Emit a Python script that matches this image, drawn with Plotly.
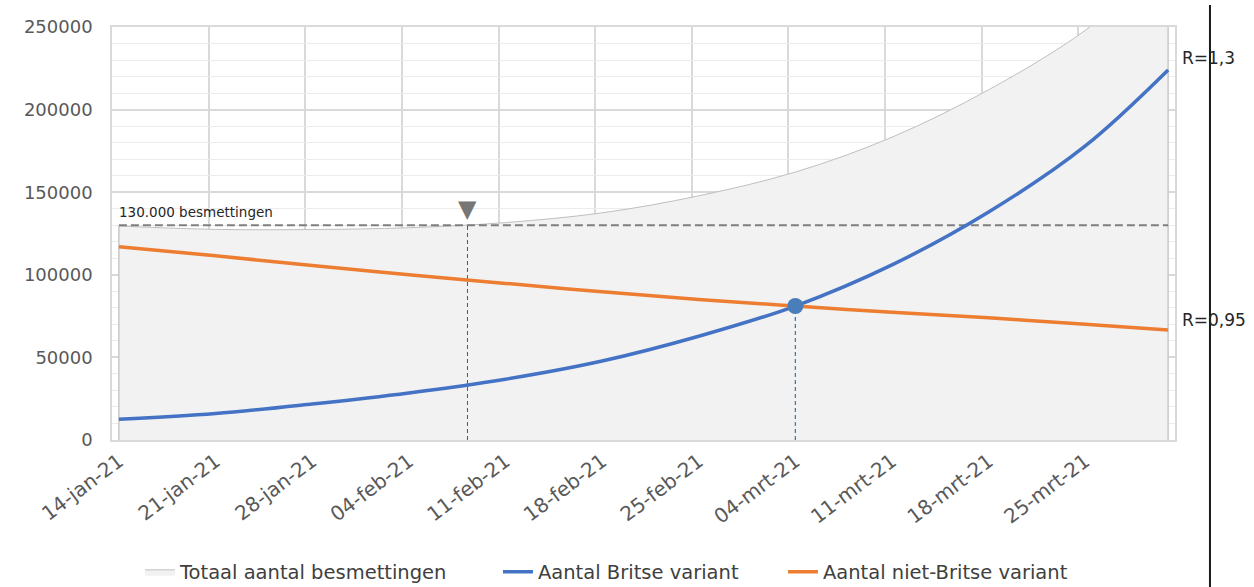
import plotly.graph_objects as go

# ---- data ----
DATES = ["2021-01-14", "2021-01-21", "2021-01-28", "2021-02-04", "2021-02-11",
         "2021-02-18", "2021-02-25", "2021-03-04", "2021-03-11", "2021-03-18",
         "2021-03-25", "2021-03-31"]
BRITISH = [12500, 16000, 21800, 28500, 36800, 47800, 62800, 81100, 106000,
           138000, 178000, 224000]
NON_BRITISH = [117000, 111500, 105600, 100000, 94800, 89700, 85000, 81100,
               77300, 74000, 70000, 66600]
TOTAL = [b + n for b, n in zip(BRITISH, NON_BRITISH)]

TICK_DATES = ["2021-01-14", "2021-01-21", "2021-01-28", "2021-02-04", "2021-02-11",
              "2021-02-18", "2021-02-25", "2021-03-04", "2021-03-11", "2021-03-18",
              "2021-03-25"]
TICK_LABELS = ["14-jan-21", "21-jan-21", "28-jan-21", "04-feb-21", "11-feb-21",
               "18-feb-21", "25-feb-21", "04-mrt-21", "11-mrt-21", "18-mrt-21",
               "25-mrt-21"]
Y_TICKS = [0, 50000, 100000, 150000, 200000, 250000]

THRESHOLD = 130000
THRESHOLD_LABEL = "130.000 besmettingen"
THRESHOLD_DATE = "2021-02-08 06:00"
CROSS_INDEX = 7  # 04-mrt-21
R_BRITISH = "R=1,3"
R_NON_BRITISH = "R=0,95"

FONT = "DejaVu Sans"
BLUE = "#4472c4"
ORANGE = "#ed7d31"

fig = go.Figure()

# total (area)
fig.add_trace(go.Scatter(
    x=DATES, y=TOTAL, name="Totaal aantal besmettingen",
    mode="lines", line=dict(color="#bfbfbf", width=1, shape="spline"),
    fill="tozeroy", fillcolor="#f2f2f2", hoverinfo="skip", legend="legend"))
# area end edges
for i in (0, -1):
    fig.add_trace(go.Scatter(
        x=[DATES[i], DATES[i]], y=[0, TOTAL[i]], mode="lines",
        line=dict(color="#c8c8c8", width=1.5), showlegend=False, hoverinfo="skip"))

# threshold dashed line
fig.add_trace(go.Scatter(
    x=[DATES[0], DATES[-1]], y=[THRESHOLD, THRESHOLD], mode="lines",
    line=dict(color="#7f7f7f", width=2.2, dash="8px,4px"), showlegend=False,
    hoverinfo="skip"))
# vertical at threshold crossing
fig.add_trace(go.Scatter(
    x=[THRESHOLD_DATE, THRESHOLD_DATE], y=[0, THRESHOLD], mode="lines",
    line=dict(color="#595959", width=1, dash="4px,3px"), showlegend=False,
    hoverinfo="skip"))
# vertical at crossing of variants
fig.add_trace(go.Scatter(
    x=[DATES[CROSS_INDEX], DATES[CROSS_INDEX]], y=[0, BRITISH[CROSS_INDEX]], mode="lines",
    line=dict(color="#2e75b6", width=1.2, dash="4px,3px"), showlegend=False,
    hoverinfo="skip"))

fig.add_trace(go.Scatter(
    x=DATES, y=BRITISH, name="Aantal Britse variant", mode="lines",
    line=dict(color=BLUE, width=3.5, shape="spline"), hoverinfo="skip",
    legend="legend2"))
fig.add_trace(go.Scatter(
    x=DATES, y=NON_BRITISH, name="Aantal niet-Britse variant", mode="lines",
    line=dict(color=ORANGE, width=3.5, shape="spline"), hoverinfo="skip",
    legend="legend3"))

# crossing dot
fig.add_trace(go.Scatter(
    x=[DATES[CROSS_INDEX]], y=[BRITISH[CROSS_INDEX]], mode="markers",
    marker=dict(color="#4a7ebb", size=16), showlegend=False, hoverinfo="skip"))

annotations = [
    dict(x=DATES[0], y=THRESHOLD, xref="x", yref="y", text=THRESHOLD_LABEL,
         showarrow=False, xanchor="left", yanchor="bottom", yshift=3, xshift=-2,
         font=dict(family=FONT, size=13.5, color="#262626")),
    dict(x=THRESHOLD_DATE, y=THRESHOLD, xref="x", yref="y", text="▼",
         showarrow=False, xanchor="center", yanchor="bottom", yshift=0,
         font=dict(family=FONT, size=24, color="#767676")),
    dict(x=DATES[-1], y=BRITISH[-1], xref="x", yref="y", text=R_BRITISH,
         showarrow=False, xanchor="left", yanchor="middle", xshift=12, yshift=12,
         font=dict(family=FONT, size=17, color="#262626")),
    dict(x=DATES[-1], y=NON_BRITISH[-1], xref="x", yref="y", text=R_NON_BRITISH,
         showarrow=False, xanchor="left", yanchor="middle", xshift=12, yshift=10,
         font=dict(family=FONT, size=17, color="#262626")),
]

legend_common = dict(orientation="h", y=-0.32, yanchor="middle", xanchor="left",
                     font=dict(family=FONT, size=19.5, color="#404040"),
                     bgcolor="rgba(0,0,0,0)")

fig.update_layout(
    width=1254, height=587,
    margin=dict(l=112, r=79, t=27, b=147, autoexpand=False),
    paper_bgcolor="white", plot_bgcolor="white",
    font=dict(family=FONT, color="#595959"),
    annotations=annotations,
    shapes=[dict(type="line", xref="paper", yref="paper",
                 x0=1.0329, x1=1.0329, y0=-0.36, y1=1.053,
                 line=dict(color="#1a1a1a", width=2))],
    legend=dict(x=0.0263, **legend_common),
    legend2=dict(x=0.3631, **legend_common),
    legend3=dict(x=0.6312, **legend_common),
    xaxis=dict(
        type="date", range=["2021-01-13 12:00", "2021-03-31 12:00"],
        tickmode="array", tickvals=TICK_DATES, ticktext=TICK_LABELS,
        tickangle=-37, tickfont=dict(family=FONT, size=20, color="#595959"),
        showgrid=False, showline=True, linecolor="#d9d9d9", linewidth=1.5, mirror=True,
        ticks="", zeroline=False, automargin=False,
        minor=dict(tickmode="linear", tick0="2021-01-13 12:00", dtick=7 * 86400000,
                   showgrid=True, gridcolor="#d9d9d9", gridwidth=1.5),
    ),
    yaxis=dict(
        range=[0, 250000], tickmode="array", tickvals=Y_TICKS,
        ticktext=[str(v) for v in Y_TICKS],
        tickfont=dict(family=FONT, size=18, color="#595959"),
        showgrid=True, gridcolor="#d9d9d9", gridwidth=1.5,
        showline=True, linecolor="#d9d9d9", linewidth=1.5, mirror=True,
        zeroline=False, ticks="", ticklabelstandoff=14, automargin=False,
        minor=dict(tickmode="linear", tick0=0, dtick=10000, showgrid=True,
                   gridcolor="#ececec", gridwidth=1),
    ),
)

fig.write_html("out.html", config={"displayModeBar": False},
               post_script="document.body.style.margin='0px';")
